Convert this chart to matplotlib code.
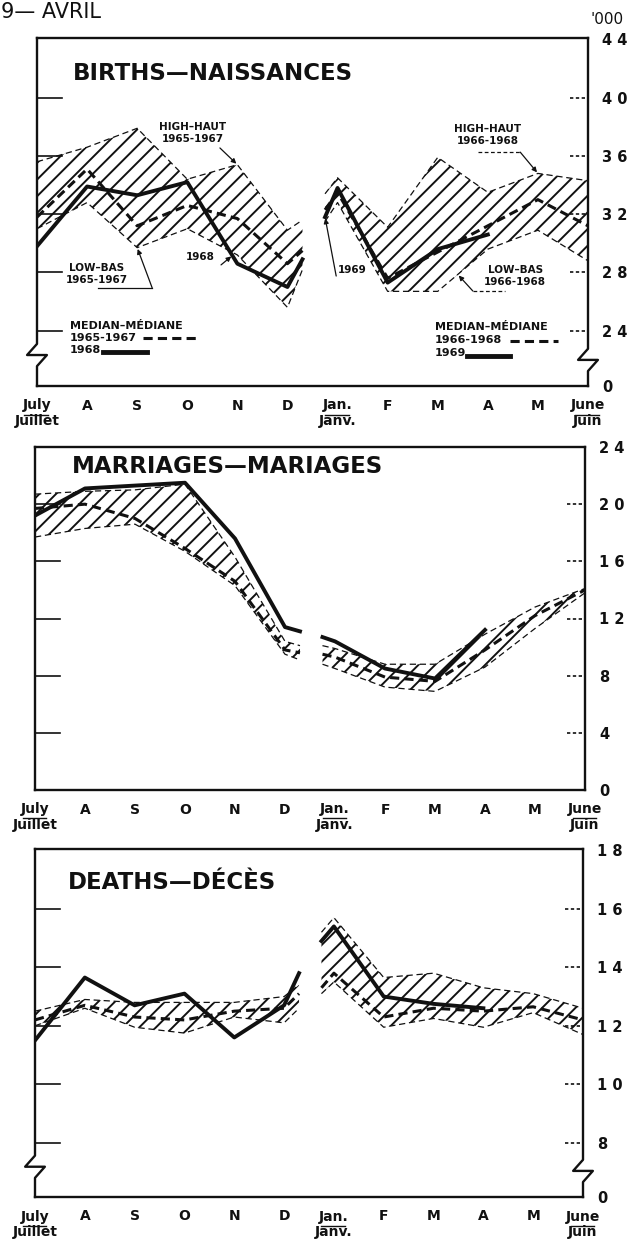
import numpy as np
import matplotlib.pyplot as plt
from matplotlib.transforms import blended_transform_factory

plt.rcParams['font.family'] = ['DejaVu Sans']
plt.rcParams['hatch.linewidth'] = 1.4

INK = '#111111'

# Month axis, July 1968 (0) to June 1969 (11).
# Each half-year curve runs a little past D and starts a little before Jan.
month_labels = ['July\nJuillet', 'A', 'S', 'O', 'N', 'D',
                'Jan.\nJanv.', 'F', 'M', 'A', 'M', 'June\nJuin']
x_jul_dec = [0, 1, 2, 3, 4, 5, 5.3]
x_jan_jun = [5.75, 6, 7, 8, 9, 10, 11]
x_1969 = [5.75, 6, 7, 8, 9]

# Births ('000)
births_high_6567 = [35.6, 36.6, 37.9, 34.4, 35.4, 30.9, 31.6]
births_low_6567 = [31.0, 32.8, 29.7, 31.0, 29.2, 25.6, 28.2]
births_med_6567 = [31.8, 35.1, 31.2, 32.6, 31.7, 28.6, 29.5]
births_1968 = [29.8, 33.9, 33.3, 34.2, 28.6, 27.0, 28.9]
births_high_6668 = [33.4, 34.5, 31.1, 35.9, 33.5, 34.8, 34.3]
births_low_6668 = [31.5, 32.8, 26.7, 26.7, 29.6, 30.9, 28.8]
births_med_6668 = [32.3, 33.5, 27.6, 29.4, 31.2, 33.0, 31.2]
births_1969 = [31.8, 33.8, 27.3, 29.6, 30.6]

# Marriages ('000)
marr_high_6567 = [20.7, 20.9, 21.0, 21.4, 16.3, 10.4, 10.1]
marr_low_6567 = [17.7, 18.3, 18.6, 16.7, 14.3, 9.5, 9.1]
marr_med_6567 = [19.7, 20.0, 19.0, 16.9, 14.6, 9.8, 9.6]
marr_1968 = [19.2, 21.1, 21.3, 21.5, 17.6, 11.4, 11.1]
marr_high_6668 = [10.1, 9.9, 8.8, 8.8, 10.9, 12.8, 14.1]
marr_low_6668 = [8.8, 8.5, 7.2, 6.9, 8.6, 11.3, 13.8]
marr_med_6668 = [9.5, 9.3, 7.9, 7.6, 9.8, 12.2, 14.0]
marr_1969 = [10.7, 10.4, 8.5, 7.8, 11.2]

# Deaths ('000)
deaths_high_6567 = [12.5, 12.9, 12.8, 12.8, 12.8, 13.0, 13.4]
deaths_low_6567 = [12.0, 12.6, 11.95, 11.75, 12.3, 12.1, 12.6]
deaths_med_6567 = [12.2, 12.7, 12.3, 12.2, 12.5, 12.6, 13.1]
deaths_1968 = [11.5, 13.65, 12.7, 13.1, 11.6, 12.7, 13.8]
deaths_high_6668 = [15.2, 15.7, 13.65, 13.8, 13.3, 13.1, 12.6]
deaths_low_6668 = [13.1, 13.5, 11.95, 12.25, 11.95, 12.45, 11.7]
deaths_med_6668 = [13.3, 13.8, 12.3, 12.6, 12.5, 12.65, 12.2]
deaths_1969 = [14.9, 15.4, 13.0, 12.75, 12.6]


def draw_frame(ax, brk_left=None, brk_right=None):
    # box with the little axis-break jogs on the sides
    kw = dict(transform=ax.transAxes, color=INK, lw=1.7, clip_on=False)
    dx, dy = 0.018, 0.032
    ax.plot([0, 1], [1, 1], **kw)
    ax.plot([0, 1], [0, 0], **kw)
    for e, b in [(0, brk_left), (1, brk_right)]:
        if b is None:
            ax.plot([e, e], [0, 1], **kw)
        else:
            ax.plot([e, e, e - dx, e + dx, e, e], [1, b + dy, b, b, b - dy, 0], **kw)


def draw_panel(ax, ylim, yticks, ylabels, side_ticks, brk, title, title_xy, bands, years):
    ax.set_xlim(0, 11)
    ax.set_ylim(*ylim)
    for s in ax.spines.values():
        s.set_visible(False)

    ax.set_xticks(range(12))
    ax.set_xticklabels(month_labels, fontsize=10, fontweight='bold', linespacing=1.15, color=INK)
    ax.set_xticks(range(1, 11), minor=True)
    ax.tick_params(axis='x', which='major', length=0, pad=9)
    ax.tick_params(axis='x', which='minor', direction='in', length=17, width=1.4, color=INK)

    ax.yaxis.tick_right()
    ax.set_yticks(yticks)
    ax.set_yticklabels(ylabels, fontsize=10.5, fontweight='bold', color=INK)
    ax.tick_params(axis='y', length=0, pad=10)

    draw_frame(ax, *brk)

    # short marks inside the box: solid on the left, dashed on the right
    tr = blended_transform_factory(ax.transAxes, ax.transData)
    for v in side_ticks:
        ax.plot([0, 0.045], [v, v], transform=tr, color=INK, lw=1.2)
        ax.plot([0.967, 1], [v, v], transform=tr, color=INK, lw=1.2, dashes=(2, 1.5))

    # underline between the English and French month names
    tr2 = blended_transform_factory(ax.transData, ax.transAxes)
    for m in [0, 6, 11]:
        ax.plot([m - 0.25, m + 0.22], [-0.082, -0.082], transform=tr2, color=INK,
                lw=1.0, clip_on=False)

    for x, hi, lo, md in bands:
        ax.fill_between(x, lo, hi, facecolor='none', edgecolor=INK, hatch='//',
                        linewidth=0, zorder=1)
        ax.plot(x, hi, color=INK, lw=0.9, dashes=(5, 3), zorder=2)
        ax.plot(x, lo, color=INK, lw=0.9, dashes=(5, 3), zorder=2)
        ax.plot(x, md, color=INK, lw=2.2, dashes=(3, 1.7), zorder=3)
    for x, y in years:
        ax.plot(x, y, color=INK, lw=2.8, solid_joinstyle='round', zorder=4)

    ax.text(title_xy[0], title_xy[1], title, transform=ax.transAxes, fontsize=16.5,
            fontweight='bold', ha='left', va='center', color=INK)


fig = plt.figure(figsize=(6.33, 12.44), dpi=100)
W, H = 633, 1244
ax1 = fig.add_axes([37 / W, 1 - 386 / H, 551 / W, 348 / H])
ax2 = fig.add_axes([35 / W, 1 - 790 / H, 550 / W, 343 / H])
ax3 = fig.add_axes([35 / W, 1 - 1197 / H, 548 / W, 348 / H])

# ---- Births
draw_panel(ax1, (20.2, 44.1), [20.2, 24, 28, 32, 36, 40, 44],
           ['0', '2 4', '2 8', '3 2', '3 6', '4 0', '4 4'],
           [24, 28, 32, 36, 40], (0.089, 0.075),
           'BIRTHS—NAISSANCES', (0.065, 0.897),
           [(x_jul_dec, births_high_6567, births_low_6567, births_med_6567),
            (x_jan_jun, births_high_6668, births_low_6668, births_med_6668)],
           [(x_jul_dec, births_1968), (x_1969, births_1969)])

arrow = dict(arrowstyle='-|>', color=INK, lw=0.9, mutation_scale=7, shrinkA=0, shrinkB=1)
small = dict(fontsize=7.5, fontweight='bold', color=INK, ha='center', va='center',
             linespacing=1.25)

ax1.text(0.283, 0.726, 'HIGH–HAUT\n1965-1967', transform=ax1.transAxes, **small)
ax1.annotate('', xy=(4, births_high_6567[4]), xytext=(0.332, 0.684),
             textcoords='axes fraction', arrowprops=arrow)
ax1.text(0.818, 0.720, 'HIGH–HAUT\n1966-1968', transform=ax1.transAxes, **small)
ax1.plot([0.80, 0.877], [0.672, 0.672], transform=ax1.transAxes, color=INK, lw=0.9, dashes=(3, 2))
ax1.annotate('', xy=(10, births_high_6668[5]), xytext=(0.877, 0.672),
             textcoords='axes fraction', arrowprops=arrow)
ax1.text(0.109, 0.323, 'LOW–BAS\n1965-1967', transform=ax1.transAxes, **small)
ax1.plot([0.11, 0.209], [0.282, 0.282], transform=ax1.transAxes, color=INK, lw=0.9)
ax1.annotate('', xy=(2, births_low_6567[2]), xytext=(0.209, 0.282),
             textcoords='axes fraction', arrowprops=arrow)
ax1.text(0.868, 0.316, 'LOW–BAS\n1966-1968', transform=ax1.transAxes, **small)
ax1.plot([0.791, 0.85], [0.273, 0.273], transform=ax1.transAxes, color=INK, lw=0.9, dashes=(3, 2))
ax1.annotate('', xy=(8.4, np.interp(8.4, x_jan_jun, births_low_6668)), xytext=(0.791, 0.273),
             textcoords='axes fraction', arrowprops=arrow)
ax1.text(0.296, 0.371, '1968', transform=ax1.transAxes, **small)
ax1.annotate('', xy=(3.9, np.interp(3.9, x_jul_dec, births_1968)), xytext=(0.334, 0.348),
             textcoords='axes fraction', arrowprops=arrow)
ax1.text(0.572, 0.333, '1969', transform=ax1.transAxes, **small)
ax1.annotate('', xy=(5.75, births_1969[0]), xytext=(0.543, 0.316),
             textcoords='axes fraction', arrowprops=arrow)

# median / year keys
ax1.text(0.06, 0.138, 'MEDIAN–MÉDIANE\n1965-1967\n1968', transform=ax1.transAxes,
         fontsize=8, fontweight='bold', color=INK, ha='left', va='center', linespacing=1.25)
ax1.plot([0.192, 0.29], [0.138, 0.138], transform=ax1.transAxes, color=INK, lw=2.2, dashes=(3, 1.7))
ax1.plot([0.12, 0.2], [0.098, 0.098], transform=ax1.transAxes, color=INK, lw=3.5)
ax1.text(0.722, 0.132, 'MEDIAN–MÉDIANE\n1966-1968\n1969', transform=ax1.transAxes,
         fontsize=8, fontweight='bold', color=INK, ha='left', va='center', linespacing=1.38)
ax1.plot([0.858, 0.946], [0.129, 0.129], transform=ax1.transAxes, color=INK, lw=2.2, dashes=(3, 1.7))
ax1.plot([0.78, 0.858], [0.086, 0.086], transform=ax1.transAxes, color=INK, lw=3.5)

# ---- Marriages
draw_panel(ax2, (0, 24), [0, 4, 8, 12, 16, 20, 24],
           ['0', '4', '8', '1 2', '1 6', '2 0', '2 4'],
           [4, 8, 12, 16, 20], (None, None),
           'MARRIAGES—MARIAGES', (0.067, 0.942),
           [(x_jul_dec, marr_high_6567, marr_low_6567, marr_med_6567),
            (x_jan_jun, marr_high_6668, marr_low_6668, marr_med_6668)],
           [(x_jul_dec, marr_1968), (x_1969, marr_1969)])

# ---- Deaths
draw_panel(ax3, (6.14, 18.05), [6.14, 8, 10, 12, 14, 16, 18],
           ['0', '8', '1 0', '1 2', '1 4', '1 6', '1 8'],
           [8, 10, 12, 14, 16], (0.087, 0.075),
           'DEATHS—DÉCÈS', (0.06, 0.905),
           [(x_jul_dec, deaths_high_6567, deaths_low_6567, deaths_med_6567),
            (x_jan_jun, deaths_high_6668, deaths_low_6668, deaths_med_6668)],
           [(x_jul_dec, deaths_1968), (x_1969, deaths_1969)])

# page fragments at the top
fig.text(1 / W, 1 - 2 / H, '9— AVRIL', fontsize=15, ha='left', va='top', color=INK)
fig.text(590 / W, 1 - 19 / H, "'000", fontsize=11, ha='left', va='center', color=INK)

fig.savefig('out.png', dpi=100, facecolor='white')
